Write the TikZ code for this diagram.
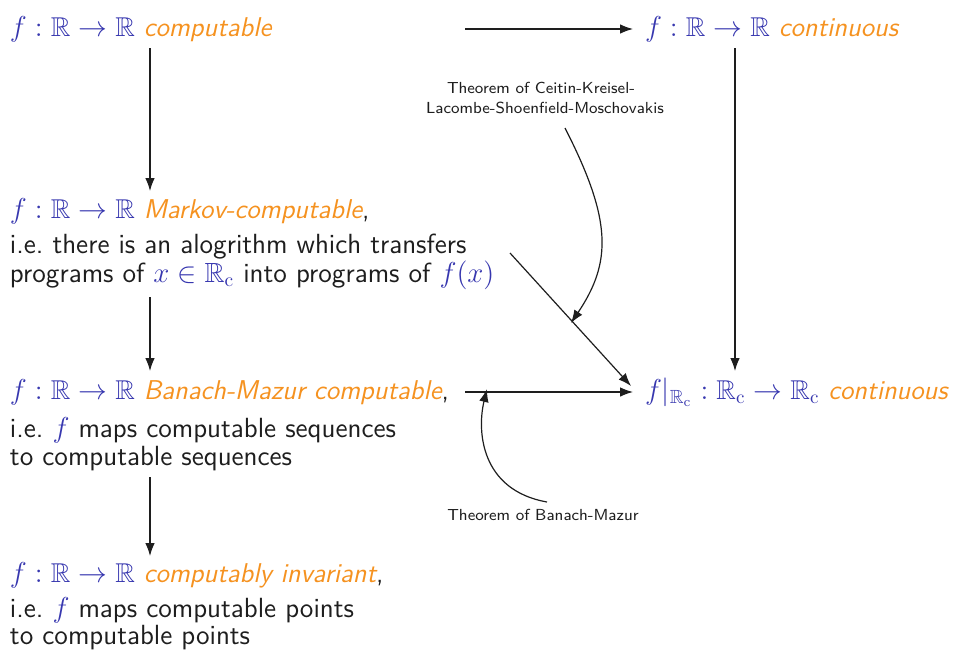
\documentclass[tikz,border=0pt]{standalone}
\usepackage{amsmath,amssymb}
\usepackage{fontspec}
\renewcommand{\familydefault}{\sfdefault}
\usetikzlibrary{arrows.meta}
\definecolor{mblue}{RGB}{55,55,175}
\definecolor{morange}{RGB}{245,146,32}
\definecolor{mtext}{RGB}{30,30,30}
\newcommand{\R}{\mathbb{R}}
\newcommand{\Rc}{\mathbb{R}_{\mathrm{c}}}
\newcommand{\bm}[1]{\textcolor{mblue}{$#1$}}
\newcommand{\al}[1]{\textcolor{morange}{\itshape #1}}
\begin{document}
\begin{tikzpicture}[x=0.5pt,y=-0.5pt,
  every node/.style={inner sep=0pt,outer sep=0pt,text=mtext},
  head/.style={anchor=base west,font=\fontsize{13.6}{16}\selectfont},
  expl/.style={anchor=base west,font=\fontsize{13.85}{16}\selectfont},
  thm/.style={anchor=base,font=\fontsize{8}{10}\selectfont},
  arr/.style={-{Latex[length=6.5pt,width=4.8pt]},line width=0.6pt,draw=mtext}]
\useasboundingbox (0,0) rectangle (958,649);
% nodes
\node[head] (comp) at (10,36) {\bm{f:\R\to\R} \al{computable}};
\node[head] (cont) at (645,36) {\bm{f:\R\to\R} \al{continuous}};
\node[head] (mark) at (10,218) {\bm{f:\R\to\R} \al{Markov-computable},};
\node[expl] (markx1) at (10,253) {i.e.\ there is an alogrithm which transfers};
\node[expl] (markx2) at (10,282) {programs of \bm{x\in\Rc} into programs of \bm{f(x)}};
\node[head] (bm) at (10,399) {\bm{f:\R\to\R} \al{Banach-Mazur computable},};
\node[expl] (bmx1) at (10,437) {i.e.\ \bm{f} maps computable sequences};
\node[expl] (bmx2) at (10,465) {to computable sequences};
\node[head] (ci) at (10,582) {\bm{f:\R\to\R} \al{computably invariant},};
\node[expl] (cix1) at (10,617) {i.e.\ \bm{f} maps computable points};
\node[expl] (cix2) at (10,644) {to computable points};
\node[head] (rc) at (645,399) {\bm{f|_{\Rc}:\Rc\to\Rc} \al{continuous}};
\node[thm] (tc1) at (541,93) {Theorem of Ceitin-Kreisel-};
\node[thm] (tc2) at (545,113) {Lacombe-Shoenfield-Moschovakis};
\node[thm] (tb) at (543,520) {Theorem of Banach-Mazur};
% connector end points
\coordinate (a1) at (150,48);  \coordinate (a2) at (150,191);
\coordinate (b1) at (150,297); \coordinate (b2) at (150,371);
\coordinate (c1) at (150,477); \coordinate (c2) at (150,556);
\coordinate (h1) at (465,29);  \coordinate (h2) at (633,29);
\coordinate (v1) at (735,48);  \coordinate (v2) at (735,371);
\coordinate (d1) at (510,253); \coordinate (d2) at (631,386);
\coordinate (g1) at (465,392); \coordinate (g2) at (633,392);
\coordinate (k1) at (565,128); \coordinate (k2) at (571,323);
\coordinate (m1) at (547,502); \coordinate (m2) at (487,389);
% connectors
\draw[arr] (a1) -- (a2);
\draw[arr] (b1) -- (b2);
\draw[arr] (c1) -- (c2);
\draw[arr] (h1) -- (h2);
\draw[arr] (v1) -- (v2);
\draw[arr] (d1) -- (d2);
\draw[arr] (g1) -- (g2);
\draw[arr] (k1) .. controls (612,220) and (612,262) .. (k2);
\draw[arr] (m1) .. controls (480,490) and (477,430) .. (m2);
\end{tikzpicture}
\end{document}
